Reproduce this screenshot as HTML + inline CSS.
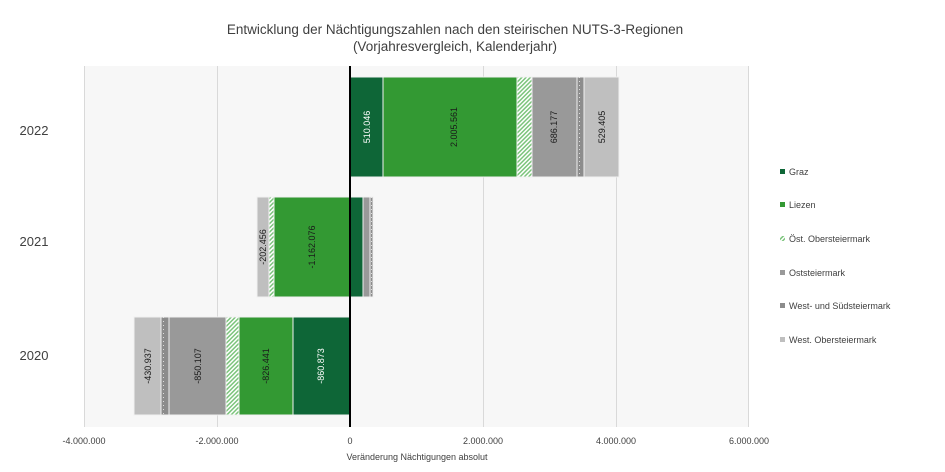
<!DOCTYPE html>
<html><head><meta charset="utf-8"><style>
html,body{margin:0;padding:0;background:#fff;}
svg{display:block;font-family:"Liberation Sans",sans-serif;}
</style></head><body>
<svg width="945" height="472" viewBox="0 0 945 472" xmlns="http://www.w3.org/2000/svg">
<defs>
<pattern id="hatch" width="3" height="3" patternUnits="userSpaceOnUse" patternTransform="rotate(45)">
<rect width="3" height="3" fill="#fff"/><rect width="1.5" height="3" fill="#7cc47c"/>
</pattern>
<pattern id="dots" width="8" height="4" patternUnits="userSpaceOnUse">
<rect width="8" height="4" fill="#8c8c8c"/><rect x="3" y="1" width="1" height="1" fill="#ddd"/>
</pattern>
</defs>
<text x="455" y="34" font-size="13.5" text-anchor="middle" fill="#404040">Entwicklung der Nächtigungszahlen nach den steirischen NUTS-3-Regionen</text>
<text x="455" y="51" font-size="13.5" text-anchor="middle" fill="#404040">(Vorjahresvergleich, Kalenderjahr)</text>
<rect x="84" y="66" width="665" height="361" fill="#f7f7f7"/>
<g stroke="#d9d9d9" stroke-width="1">
<line x1="84.5" y1="66" x2="84.5" y2="427"/><line x1="217.5" y1="66" x2="217.5" y2="427"/>
<line x1="483.5" y1="66" x2="483.5" y2="427"/><line x1="616.5" y1="66" x2="616.5" y2="427"/>
<line x1="748.5" y1="66" x2="748.5" y2="427"/>
</g>
<g stroke="#f0f0f0" stroke-width="1">
<!-- 2022 -->
<rect x="350" y="77" width="33" height="100" fill="#0e6637"/>
<rect x="383" y="77" width="134" height="100" fill="#339933"/>
<rect x="517" y="77" width="15" height="100" fill="url(#hatch)"/>
<rect x="532" y="77" width="45" height="100" fill="#999"/>
<rect x="577" y="77" width="7" height="100" fill="url(#dots)"/>
<rect x="584" y="77" width="35" height="100" fill="#bfbfbf"/>
<!-- 2021 -->
<rect x="350" y="197" width="13" height="100" fill="#0e6637"/>
<rect x="363" y="197" width="7" height="100" fill="#999"/>
<rect x="370" y="197" width="3" height="100" fill="url(#dots)"/>
<rect x="257" y="197" width="12" height="100" fill="#bfbfbf"/>
<rect x="269" y="197" width="5" height="100" fill="url(#hatch)"/>
<rect x="274" y="197" width="76" height="100" fill="#339933"/>
<!-- 2020 -->
<rect x="134" y="317" width="27" height="98" fill="#bfbfbf"/>
<rect x="161" y="317" width="8" height="98" fill="url(#dots)"/>
<rect x="169" y="317" width="57" height="98" fill="#999"/>
<rect x="226" y="317" width="13" height="98" fill="url(#hatch)"/>
<rect x="239" y="317" width="54" height="98" fill="#339933"/>
<rect x="293" y="317" width="57" height="98" fill="#0e6637"/>
</g>
<line x1="350" y1="66" x2="350" y2="427" stroke="#000" stroke-width="2"/>
<g font-size="9" text-anchor="middle">
<text transform="translate(370,127) rotate(-90)" fill="#fff">510.046</text>
<text transform="translate(457,127) rotate(-90)" fill="#1a1a1a">2.005.561</text>
<text transform="translate(557,127) rotate(-90)" fill="#1a1a1a">686.177</text>
<text transform="translate(605,127) rotate(-90)" fill="#1a1a1a">529.405</text>
<text transform="translate(266,247) rotate(-90)" fill="#1a1a1a">-202.456</text>
<text transform="translate(315,247) rotate(-90)" fill="#1a1a1a">-1.162.076</text>
<text transform="translate(151,366) rotate(-90)" fill="#1a1a1a">-430.937</text>
<text transform="translate(201,366) rotate(-90)" fill="#1a1a1a">-850.107</text>
<text transform="translate(269,366) rotate(-90)" fill="#1a1a1a">-826.441</text>
<text transform="translate(324,366) rotate(-90)" fill="#fff">-860.873</text>
</g>
<g font-size="13" fill="#404040" text-anchor="middle">
<text x="34" y="135">2022</text><text x="34" y="246">2021</text><text x="34" y="360">2020</text>
</g>
<g font-size="9" fill="#404040" text-anchor="middle">
<text x="84" y="444">-4.000.000</text><text x="217" y="444">-2.000.000</text><text x="350" y="444">0</text>
<text x="483" y="444">2.000.000</text><text x="616" y="444">4.000.000</text><text x="749" y="444">6.000.000</text>
<text x="417" y="460">Veränderung Nächtigungen absolut</text>
</g>
<g font-size="9" fill="#404040">
<rect x="780" y="169" width="5" height="5" fill="#0e6637"/><text x="789" y="175">Graz</text>
<rect x="780" y="202" width="5" height="5" fill="#339933"/><text x="789" y="208">Liezen</text>
<rect x="780" y="236" width="5" height="5" fill="url(#hatch)"/><text x="789" y="242">Öst. Obersteiermark</text>
<rect x="780" y="270" width="5" height="5" fill="#999"/><text x="789" y="276">Oststeiermark</text>
<rect x="780" y="303" width="5" height="5" fill="#8c8c8c"/><text x="789" y="309">West- und Südsteiermark</text>
<rect x="780" y="337" width="5" height="5" fill="#bfbfbf"/><text x="789" y="343">West. Obersteiermark</text>
</g>
</svg>
</body></html>
